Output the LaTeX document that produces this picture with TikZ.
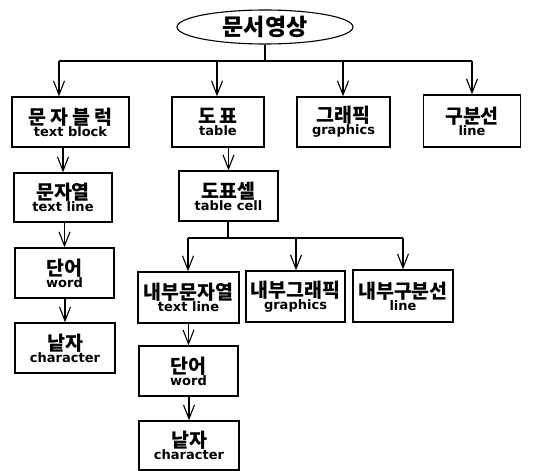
\documentclass[tikz,border=0pt]{standalone}
\usepackage{fontspec}
\newfontfamily\kr{Noto Sans CJK KR}
\newfontfamily\en{DejaVu Sans}
\usetikzlibrary{shapes.geometric,arrows.meta}
\tikzset{
  box/.style={draw,line width=1.3pt,rectangle,inner sep=0pt,align=center},
  arr/.style={line width=1.1pt,-{Straight Barb[length=14pt,width=11pt,line width=1.1pt]}},
  ln/.style={line width=1.1pt},
}
\newcommand{\bx}[2]{{\kr\bfseries\fontsize{19.5}{21}\selectfont #1}\\[0pt]{\en\bfseries\fontsize{13}{15}\selectfont #2}}
\begin{document}
\begin{tikzpicture}[x=1pt,y=-1pt]
\useasboundingbox (0,0) rectangle (547,471);
\node[ellipse,draw,line width=1.1pt,minimum width=176pt,minimum height=34pt,inner sep=0pt] (top) at (265,27) {\kr\bfseries\fontsize{23}{25}\selectfont 문서영상};
\node[box,minimum width=117pt,minimum height=50pt] (b1) at (70.5,122) {\bx{문\hspace{4pt}자\hspace{4pt}블\hspace{4pt}럭}{text block}};
\node[box,minimum width=92pt,minimum height=50pt] (b2) at (218,122) {\bx{도\hspace{3pt}표}{table}};
\node[box,minimum width=93pt,minimum height=50pt] (b3) at (343.5,122) {\bx{그래픽}{graphics}};
\node[box,minimum width=97pt,minimum height=52pt] (b4) at (472,121) {\bx{구분선}{line}};
\node[box,minimum width=98pt,minimum height=49pt] (c1) at (63,197.5) {\bx{문자열}{text line}};
\node[box,minimum width=99pt,minimum height=50pt] (c2) at (228.5,196) {\bx{도표셀}{table cell}};
\node[box,minimum width=99pt,minimum height=50pt] (d1) at (64.5,273) {\bx{단어}{word}};
\node[box,minimum width=100pt,minimum height=50pt] (e1) at (65,348) {\bx{낱자}{character}};
\node[box,minimum width=101pt,minimum height=51pt] (f1) at (188.5,297.5) {\bx{내부문자열}{text line}};
\node[box,minimum width=99pt,minimum height=51pt] (f2) at (295.5,296.5) {\bx{내부그래픽}{graphics}};
\node[box,minimum width=100pt,minimum height=52pt] (f3) at (403,296) {\bx{내부구분선}{line}};
\node[box,minimum width=99pt,minimum height=50pt] (g1) at (188.5,371) {\bx{단어}{word}};
\node[box,minimum width=100pt,minimum height=49pt] (h1) at (189,445.5) {\bx{낱자}{character}};
% top bus
\coordinate (t0) at (265,61);
\coordinate (t1) at (59,61);
\coordinate (t2) at (217,61);
\coordinate (t3) at (343,61);
\coordinate (t4) at (472,61);
\draw[ln] (top.south) -- (t0);
\draw[ln] (t1) -- (t4);
\draw[arr] (t1) -- (t1 |- b1.north);
\draw[arr] (t2) -- (t2 |- b2.north);
\draw[arr] (t3) -- (t3 |- b3.north);
\draw[arr] (t4) -- (t4 |- b4.north);
% left column
\draw[arr] (c1.north |- b1.south) -- (c1.north);
\draw[arr] (d1.north |- c1.south) -- (d1.north);
\draw[arr] (e1.north |- d1.south) -- (e1.north);
% table column
\draw[arr] (c2.north |- b2.south) -- (c2.north);
\coordinate (s0) at (228,238);
\coordinate (s1) at (188,238);
\coordinate (s2) at (296,238);
\coordinate (s3) at (403,238);
\draw[ln] (c2.south -| s0) -- (s0);
\draw[ln] (s1) -- (s3);
\draw[arr] (s1) -- (s1 |- f1.north);
\draw[arr] (s2) -- (s2 |- f2.north);
\draw[arr] (s3) -- (s3 |- f3.north);
\draw[arr] (g1.north |- f1.south) -- (g1.north);
\draw[arr] (h1.north |- g1.south) -- (h1.north);
\end{tikzpicture}
\end{document}
